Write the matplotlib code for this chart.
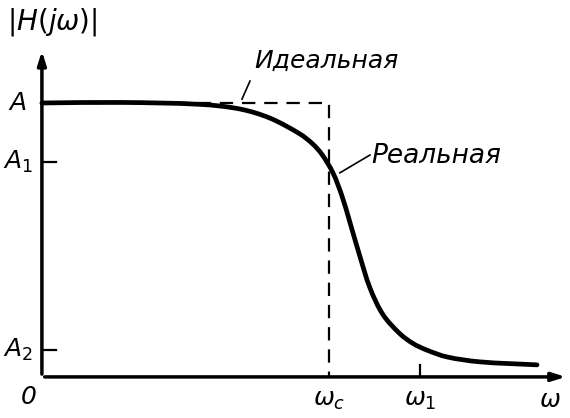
import matplotlib
matplotlib.use("Agg")
import matplotlib.pyplot as plt
import numpy as np
from matplotlib.path import Path
from matplotlib.patches import PathPatch

# real (measured) response, normalised so that A = 1 and w_c = 1
w_real = [0.0, 0.272, 0.551, 0.690, 0.794, 0.899, 0.944, 0.976, 1.014, 1.045,
          1.073, 1.108, 1.143, 1.188, 1.247, 1.293, 1.341, 1.411, 1.526, 1.725]
h_real = [1.0, 1.002, 0.995, 0.978, 0.945, 0.887, 0.850, 0.812, 0.745, 0.662,
          0.565, 0.440, 0.325, 0.228, 0.158, 0.122, 0.098, 0.073, 0.055, 0.044]

# ideal filter
w_ideal = [0.0, 1.0, 1.0]
h_ideal = [1.0, 1.0, 0.0]

A, A1, A2 = 1.0, 0.785, 0.099
w_c, w_1 = 1.0, 1.317

y_labels = ["$A$", "$A_1$", "$A_2$"]
x_labels = ["$\\omega_c$", "$\\omega_1$", "$\\omega$"]


def smooth_path(xs, ys):
    # chord-length hermite spline through the points, as cubic bezier segments
    p = np.column_stack([xs, ys])
    t = np.concatenate([[0], np.cumsum(np.hypot(*np.diff(p, axis=0).T))])
    n = len(p)
    m = np.zeros_like(p)
    m[0] = (p[1] - p[0]) / (t[1] - t[0])
    m[-1] = (p[-1] - p[-2]) / (t[-1] - t[-2])
    for i in range(1, n - 1):
        m[i] = (p[i + 1] - p[i - 1]) / (t[i + 1] - t[i - 1])
    verts = [p[0]]
    codes = [Path.MOVETO]
    for i in range(n - 1):
        dt = t[i + 1] - t[i]
        verts += [p[i] + m[i] * dt / 3, p[i + 1] - m[i + 1] * dt / 3, p[i + 1]]
        codes += [Path.CURVE4] * 3
    return Path(verts, codes)


plt.rcParams["mathtext.fontset"] = "dejavusans"
fs = 18

fig = plt.figure(figsize=(5.7, 4.18), dpi=100)
ax = fig.add_axes([0, 0, 1, 1])
ax.set_xlim(-0.146, 1.840)
ax.set_ylim(-0.150, 1.376)
ax.axis("off")

# axes with arrows
ax.annotate("", xy=(1.835, 0), xytext=(0, 0),
            arrowprops=dict(arrowstyle="-|>,head_length=0.8,head_width=0.25", lw=2.5, color="black"))
ax.annotate("", xy=(0, 1.2), xytext=(0, 0),
            arrowprops=dict(arrowstyle="-|>,head_length=0.8,head_width=0.25", lw=2.5, color="black"))

# ideal (dashed) and real (thick) curves
ax.plot(w_ideal, h_ideal, color="black", lw=1.6, linestyle=(0, (6, 4)))
ax.add_patch(PathPatch(smooth_path(w_real, h_real), fill=False, edgecolor="black",
                       lw=3.4, capstyle="round", joinstyle="round"))

# small ticks
for yv in [A1, A2]:
    ax.plot([0, 0.05], [yv, yv], color="black", lw=1.6)
ax.plot([w_1, w_1], [0, 0.045], color="black", lw=1.6)

# y labels
for yv, lab in zip([A, A1, A2], y_labels):
    ax.text(-0.085, yv, lab, fontsize=fs, style="italic", ha="center", va="center")
ax.text(-0.045, -0.075, "0", fontsize=fs, style="italic", ha="center", va="center")

# x labels
for xv, lab in zip([w_c, w_1, 1.77], x_labels):
    ax.text(xv, -0.085, lab, fontsize=fs, ha="center", va="center")

ax.text(0.035, 1.295, "$|H(j\\omega)|$", fontsize=20, ha="center", va="center")

# annotations
ax.text(0.99, 1.155, "Идеальная", fontsize=18, style="italic", ha="center", va="center")
ax.plot([0.725, 0.697], [1.080, 1.014], color="black", lw=1.2)
ax.text(1.375, 0.808, "Реальная", fontsize=19, style="italic", ha="center", va="center")
ax.plot([1.143, 1.038], [0.810, 0.745], color="black", lw=1.2)

fig.savefig("out.png", dpi=100)
